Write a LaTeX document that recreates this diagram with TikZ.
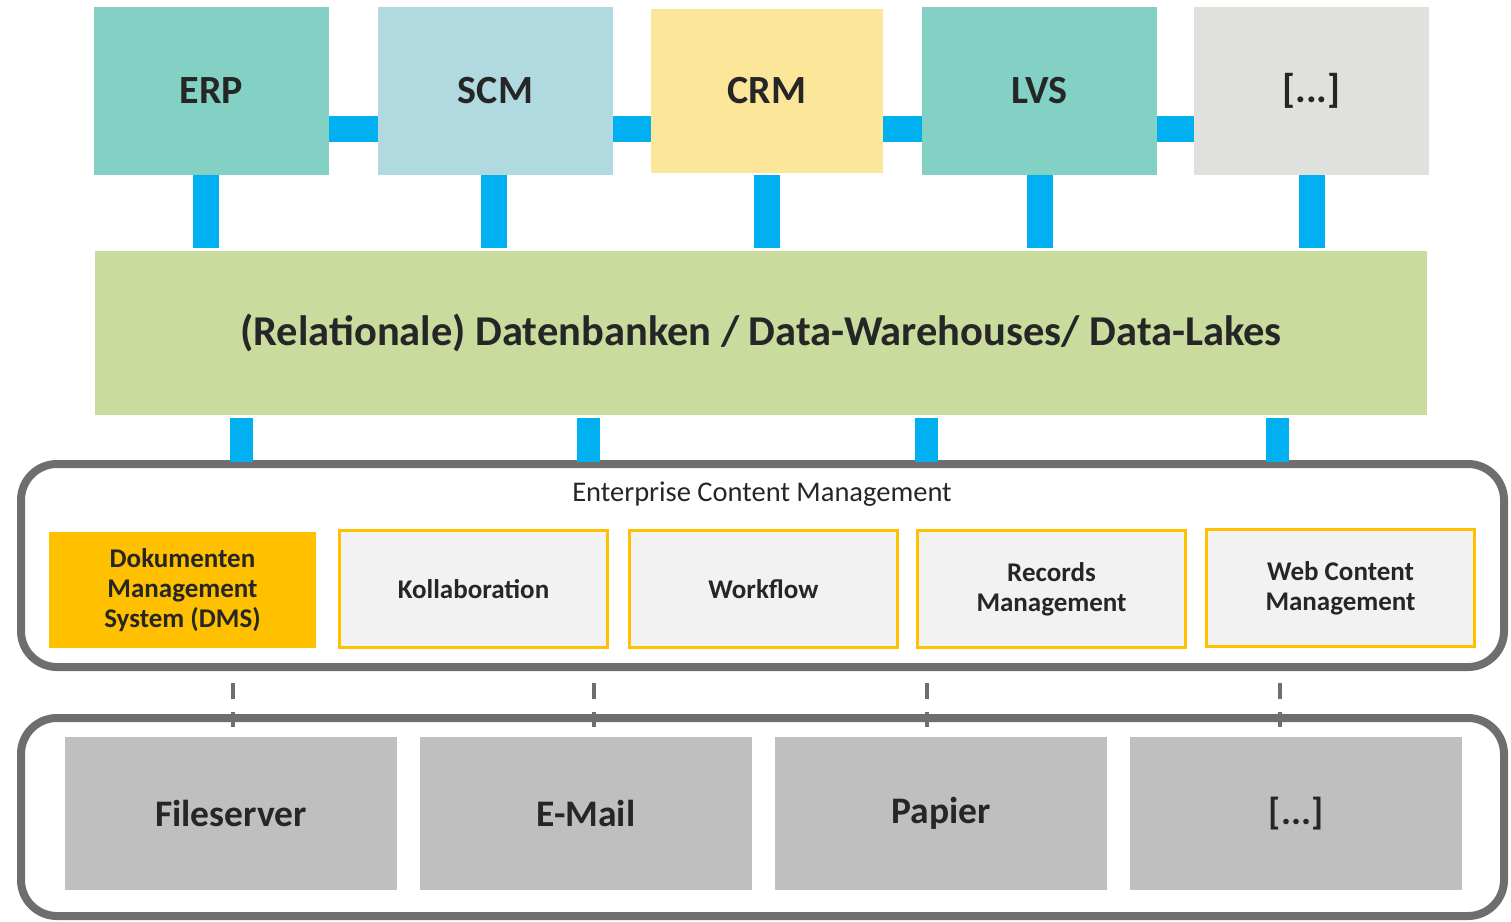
\documentclass[tikz,border=0pt]{standalone}
\usepackage{fontspec}
\setmainfont{Carlito}
\usetikzlibrary{calc}

\definecolor{tealbox}{HTML}{83D0C4}
\definecolor{bluebox}{HTML}{B0DAE0}
\definecolor{yellowbox}{HTML}{FBE699}
\definecolor{greybox}{HTML}{E0E0DC}
\definecolor{dbgreen}{HTML}{CADB9E}
\definecolor{busblue}{HTML}{00B0F0}
\definecolor{framegrey}{HTML}{6E6E6E}
\definecolor{dmsorange}{HTML}{FFC000}
\definecolor{modfill}{HTML}{F2F2F2}
\definecolor{srcgrey}{HTML}{BFBFBF}
\definecolor{ink}{HTML}{262626}

\tikzset{
  sysbox/.style={rectangle, inner sep=0pt, minimum width=235pt, minimum height=168pt,
    text=ink, font=\fontsize{40}{48}\selectfont\bfseries},
  modbox/.style={rectangle, inner sep=0pt, draw=dmsorange, line width=3pt, fill=modfill,
    minimum width=268pt, minimum height=117pt, text=ink, align=center,
    font=\fontsize{27}{30}\selectfont\bfseries},
  srcbox/.style={rectangle, inner sep=0pt, fill=srcgrey, minimum width=332pt,
    minimum height=153pt, text=ink, font=\fontsize{37.5}{45}\selectfont\bfseries},
  frame/.style={rectangle, draw=framegrey, line width=8pt, rounded corners=36pt,
    inner sep=0pt, outer sep=0pt},
  bus/.style={draw=busblue, line width=26pt},
  lowbus/.style={draw=busblue, line width=23pt},
  link/.style={draw=framegrey, line width=3.5pt, dash pattern=on 16pt off 13pt, dash phase=17pt},
}

\begin{document}
\begin{tikzpicture}[x=1pt, y=-1pt]
\useasboundingbox (0,0) rectangle (1511,921);

% application systems
\node[sysbox, fill=tealbox]   (erp) at (211.5,91) {ERP};
\node[sysbox, fill=bluebox]   (scm) at (495.5,91) {SCM};
\node[sysbox, fill=yellowbox, minimum width=232pt, minimum height=164pt] (crm) at (767,91) {CRM};
\node[sysbox, fill=tealbox]   (lvs) at (1039.5,91) {LVS};
\node[sysbox, fill=greybox]   (etc) at (1311.5,91) {[...]};

% database layer
\node[rectangle, inner sep=0pt, fill=dbgreen, minimum width=1332pt, minimum height=164pt,
  text=ink, font=\fontsize{42.5}{50}\selectfont\bfseries] (db) at (761,333)
  {(Relationale) Datenbanken / Data-Warehouses/ Data-Lakes};

% horizontal links between systems
\draw[bus] ([yshift=-38pt]erp.east) -- ([yshift=-38pt]scm.west);
\draw[bus] ([yshift=-38pt]scm.east) -- ([yshift=-38pt]scm.east -| crm.west);
\draw[bus] ([yshift=-38pt]scm.east -| crm.east) -- ([yshift=-38pt]lvs.west);
\draw[bus] ([yshift=-38pt]lvs.east) -- ([yshift=-38pt]etc.west);

% vertical links systems -> database
\draw[bus] ([xshift=-5.5pt]erp.south) -- ([xshift=-5.5pt,yshift=3pt]erp.south |- db.north);
\draw[bus] ([xshift=-1.5pt]scm.south) -- ([xshift=-1.5pt,yshift=3pt]scm.south |- db.north);
\draw[bus] ([yshift=-2pt]crm.south) -- ([yshift=3pt]crm.south |- db.north);
\draw[bus] (lvs.south) -- ([yshift=3pt]lvs.south |- db.north);
\draw[bus] (etc.south) -- ([yshift=3pt]etc.south |- db.north);

% ECM frame and lower frame
\node[frame, minimum width=1483pt, minimum height=203pt] (ecm) at (762.5,565.5) {};
\node[frame, minimum width=1483pt, minimum height=198pt] (src) at (762.5,817) {};

% links database -> ECM
\foreach \x in {241.5, 588.5, 926.5, 1277.5} {
  \coordinate (dbport) at (\x,0);
  \draw[lowbus] ([yshift=-3pt]db.south -| dbport) -- ([yshift=2pt]ecm.north -| dbport);
}

\node[text=ink, font=\fontsize{28.5}{34}\selectfont] (ecmtitle) at (762,494) {Enterprise Content Management};

% ECM modules
\node[modbox, draw=none, fill=dmsorange, minimum width=267pt, minimum height=116pt] (dms) at (182.5,590)
  {Dokumenten\\Management\\System (DMS)};
\node[modbox] (koll) at (473.5,589) {Kollaboration};
\node[modbox] (wf)   at (763.5,589) {Workflow};
\node[modbox] (rm)   at (1051.5,589) {Records\\Management};
\node[modbox] (wcm)  at (1340.5,588) {Web Content\\Management};

% content sources
\node[srcbox] (fs)   at (231,813.5)  {Fileserver};
\node[srcbox] (mail) at (586,813.5)  {E-Mail};
\node[srcbox] (pap)  at (941,813.5)  {Papier};
\node[srcbox] (more) at (1296,813.5) {[...]};

% dashed links ECM -> sources
\foreach \x in {233, 594, 927, 1280} {
  \coordinate (tap) at (\x,0);
  \draw[link] ([yshift=-4pt]ecm.south -| tap) -- ([yshift=-9pt]src.north -| tap);
}
\end{tikzpicture}
\end{document}
